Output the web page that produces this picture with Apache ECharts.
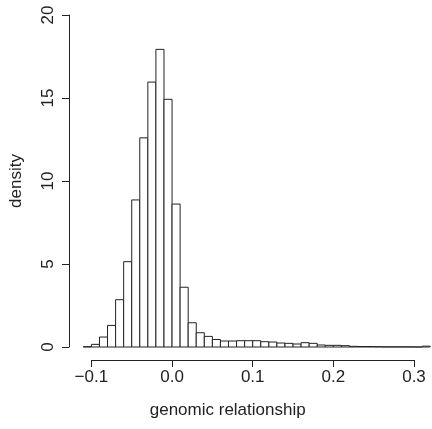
<!DOCTYPE html>
<html>
<head>
<meta charset="utf-8">
<script src="https://cdn.jsdelivr.net/npm/echarts@6/dist/echarts.min.js"></script>
<style>
  html, body { margin: 0; padding: 0; background: #fff; }
  #chart { width: 432px; height: 429px; }
</style>
</head>
<body>
<div id="chart"></div>
<script>
// histogram bin edges (genomic relationship)
const breaks = [
    -0.11, -0.10, -0.09, -0.08, -0.07, -0.06, -0.05, -0.04, -0.03, -0.02, -0.01,
    0.00, 0.01, 0.02, 0.03, 0.04, 0.05, 0.06, 0.07, 0.08, 0.09, 0.10,
    0.11, 0.12, 0.13, 0.14, 0.15, 0.16, 0.17, 0.18, 0.19, 0.20,
    0.21, 0.22, 0.23, 0.24, 0.25, 0.26, 0.27, 0.28, 0.29, 0.30, 0.31, 0.32
];

// density per bin
const density = [
    0.02, 0.16, 0.6, 1.3, 2.85, 5.14, 8.86, 12.6, 15.96, 17.93, 14.92,
    8.61, 3.6, 1.46, 0.86, 0.64, 0.45, 0.36, 0.36, 0.38, 0.38,
    0.38, 0.32, 0.3, 0.24, 0.22, 0.18, 0.26, 0.22, 0.12, 0.1,
    0.1, 0.08, 0.04, 0.03, 0.03, 0.02, 0.01, 0.01, 0.01, 0.01, 0.0, 0.05
];

const xTicks = [-0.1, 0.0, 0.1, 0.2, 0.3];
const yTicks = [0, 5, 10, 15, 20];

const FONT = "'Liberation Sans', Arial, Helvetica, sans-serif";
const INK = "#222";

const bins = density.map((d, i) => [breaks[i], breaks[i + 1], d]);

function renderBin(params, api) {
    const top = api.coord([api.value(0), api.value(2)]);
    const bottom = api.coord([api.value(1), 0]);
    return {
        type: "rect",
        shape: {
            x: top[0],
            y: top[1],
            width: bottom[0] - top[0],
            height: bottom[1] - top[1]
        },
        style: { fill: "#fff", stroke: INK, lineWidth: 1 }
    };
}

const chart = echarts.init(document.getElementById("chart"), null, { renderer: "canvas" });

chart.setOption({
    animation: false,
    backgroundColor: "#fff",
    grid: {
        left: 90.7,
        right: 18,
        top: 15,
        bottom: 82,
        containLabel: false
    },
    xAxis: {
        type: "value",
        min: xTicks[0],
        max: xTicks[xTicks.length - 1],
        interval: 0.1,
        offset: 13,
        name: "genomic relationship",
        nameLocation: "middle",
        nameGap: 42,
        nameTextStyle: { fontFamily: FONT, fontSize: 17, color: INK, padding: [0, 50, 0, 0] },
        axisLine: { show: true, onZero: false, lineStyle: { color: INK, width: 1 } },
        axisTick: { show: true, length: 7, lineStyle: { color: INK } },
        axisLabel: {
            fontFamily: FONT,
            fontSize: 17,
            color: INK,
            margin: 9,
            formatter: v => v.toFixed(1).replace("-", "\u2212")
        },
        splitLine: { show: false }
    },
    yAxis: {
        type: "value",
        min: yTicks[0],
        max: yTicks[yTicks.length - 1],
        interval: 5,
        offset: 22.4,
        name: "density",
        nameLocation: "middle",
        nameGap: 44,
        nameRotate: 90,
        nameTextStyle: { fontFamily: FONT, fontSize: 17, color: INK },
        axisLine: { show: true, onZero: false, lineStyle: { color: INK, width: 1 } },
        axisTick: { show: true, length: 7, lineStyle: { color: INK } },
        axisLabel: {
            fontFamily: FONT,
            fontSize: 17,
            color: INK,
            rotate: 90,
            margin: 12
        },
        splitLine: { show: false }
    },
    series: [
        {
            type: "custom",
            clip: false,
            renderItem: renderBin,
            encode: { x: [0, 1], y: 2 },
            data: bins
        }
    ]
});
</script>
</body>
</html>
